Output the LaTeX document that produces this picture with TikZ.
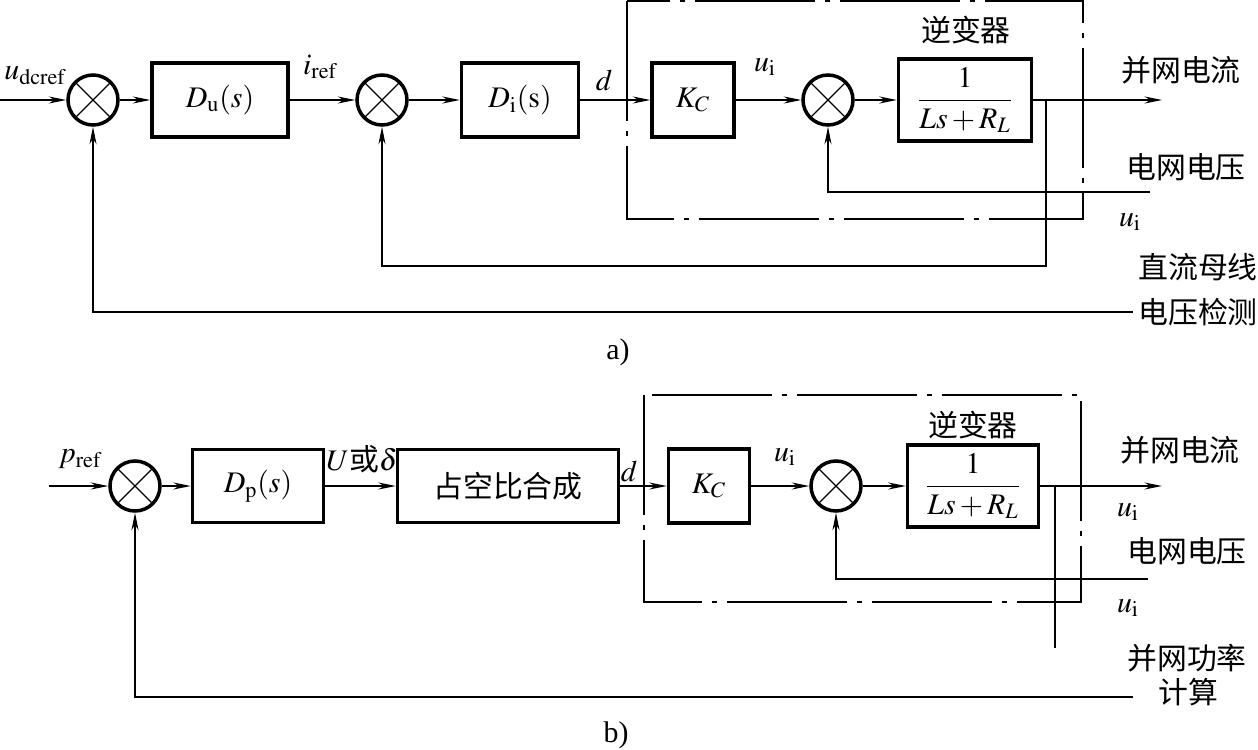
\documentclass[tikz,border=0pt]{standalone}
\usepackage{amsmath}
\usepackage{mathptmx}
\usepackage{fontspec}
\setmainfont{Liberation Serif}
\newfontfamily\cjk{Noto Sans CJK SC}
\usetikzlibrary{arrows.meta}
\tikzset{
  sumnode/.style={circle, draw, line width=2pt, minimum size=1cm, inner sep=0pt,
    path picture={\draw[line width=0.7pt] (path picture bounding box.north west) -- (path picture bounding box.south east)
      (path picture bounding box.north east) -- (path picture bounding box.south west);}},
  blk/.style={draw, line width=2pt, minimum height=1.48cm, inner sep=2pt},
  sig/.style={line width=0.8pt, -{Stealth[length=3.5mm,width=1.4mm]}},
  wire/.style={line width=0.8pt},
  invbox/.style={line width=1.2pt, dash pattern=on 2.4cm off 0.2cm on 0.1cm off 0.2cm},
  cn/.style={font=\cjk\fontsize{17}{19}\selectfont}
}
\begin{document}
\begin{tikzpicture}[x=0.02cm, y=-0.02cm, font=\fontsize{17}{19}\selectfont]
\useasboundingbox (0,0) rectangle (1258,750);
% a) dc-bus voltage loop
\node[sumnode] (sA1) at (93,100) {};
\node[blk, minimum width=2.72cm] (DuA) at (220,100) {$D_{\mathrm{u}}(s)$};
\node[sumnode] (sA2) at (382,100) {};
\node[blk, minimum width=2.34cm] (DiA) at (520,100) {$D_{\mathrm{i}}(\mathrm{s})$};
\node[blk, minimum width=1.64cm] (KcA) at (693,100) {$K_C$};
\node[sumnode] (sA3) at (828,100) {};
\node[blk, minimum width=2.66cm, minimum height=1.64cm] (plA) at (965,100) {$\dfrac{1}{Ls+R_L}$};
\draw[invbox] (627,1) rectangle (1083,219);
\coordinate (inA) at (0,100);
\coordinate (outA) at (1162,100);
\coordinate (brA) at (1046,100);
\coordinate (fbA) at (1046,266);
\coordinate (gridA) at (1150,192);
\coordinate (vdA) at (1133,312);
\draw[sig] (inA) -- (sA1);
\draw[sig] (sA1) -- (DuA);
\draw[sig] (DuA) -- (sA2);
\draw[sig] (sA2) -- (DiA);
\draw[sig] (DiA) -- (KcA);
\draw[sig] (KcA) -- (sA3);
\draw[sig] (sA3) -- (plA);
\draw[sig] (plA) -- (outA);
\draw[sig] (brA) -- (fbA) -| (sA2.south);
\draw[sig] (gridA) -| (sA3.south);
\draw[sig] (vdA) -| (sA1.south);
\node (udc) at (35,76) {$u_{\mathrm{dcref}}$};
\node (irefA) at (320,67) {$i_{\mathrm{ref}}$};
\node (dA) at (604,80) {$d$};
\node (uiA) at (765,67) {$u_{\mathrm{i}}$};
\node (uiA2) at (1130,222) {$u_{\mathrm{i}}$};
\foreach \n/\x/\y/\t in {invA/966/30/逆变器, igA/1181/70/并网电流, ugA/1186/167/电网电压, dcA/1198/267/直流母线, vmA/1198/312/电压检测}
  \node[cn] (\n) at (\x,\y) {\t};
\node (capA) at (618,352) {a)};
% b) power loop
\node[sumnode] (sB1) at (135,486) {};
\node[blk, minimum width=2.62cm, minimum height=1.46cm] (DpB) at (258,486) {$D_{\mathrm{p}}(s)$};
\node[blk, minimum width=4.42cm, minimum height=1.46cm, cn] (dutyB) at (508,486) {占空比合成};
\node[blk, minimum width=1.62cm] (KcB) at (709,486) {$K_C$};
\node[sumnode] (sB2) at (836,486) {};
\node[blk, minimum width=2.62cm, minimum height=1.64cm] (plB) at (973,486) {$\dfrac{1}{Ls+R_L}$};
\draw[invbox] (644,395) rectangle (1081,602);
\coordinate (inB) at (49,486);
\coordinate (outB) at (1162,486);
\coordinate (brB) at (1055,486);
\coordinate (brBend) at (1055,648);
\coordinate (gridB) at (1148,579);
\coordinate (pcB) at (1133,697);
\draw[sig] (inB) -- (sB1);
\draw[sig] (sB1) -- (DpB);
\draw[sig] (DpB) -- (dutyB);
\draw[sig] (dutyB) -- (KcB);
\draw[sig] (KcB) -- (sB2);
\draw[sig] (sB2) -- (plB);
\draw[sig] (plB) -- (outB);
\draw[wire] (brB) -- (brBend);
\draw[sig] (gridB) -| (sB2.south);
\draw[sig] (pcB) -| (sB1.south);
\node (prefB) at (80,459) {$p_{\mathrm{ref}}$};
\node (UdB) at (362,459) {$U${\cjk 或}$\delta$};
\node (dB) at (629,471) {$d$};
\node (uiB) at (785,457) {$u_{\mathrm{i}}$};
\node (uiB2) at (1128,512) {$u_{\mathrm{i}}$};
\node (uiB3) at (1128,608) {$u_{\mathrm{i}}$};
\foreach \n/\x/\y/\t in {invB/973/425/逆变器, igB/1180/450/并网电流, ugB/1187/551/电网电压, pwB/1187/658/并网功率, clB/1188/692/计算}
  \node[cn] (\n) at (\x,\y) {\t};
\node (capB) at (616,735) {b)};
\end{tikzpicture}
\end{document}
